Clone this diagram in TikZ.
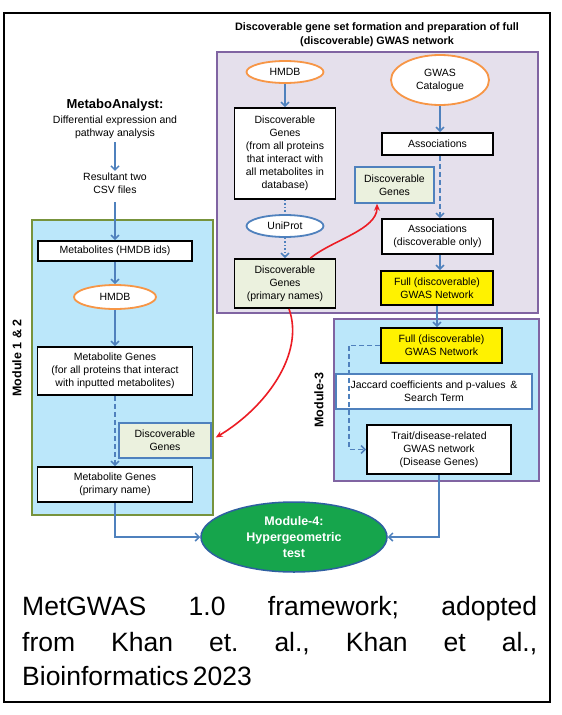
\documentclass[tikz,border=0pt]{standalone}
\usepackage{fontspec}
\setmainfont{Liberation Sans}
\usetikzlibrary{shapes.geometric,arrows.meta}
\definecolor{arrblue}{RGB}{79,129,189}
\definecolor{purpfill}{RGB}{229,224,236}
\definecolor{purpline}{RGB}{128,100,162}
\definecolor{cyanfill}{RGB}{187,231,250}
\definecolor{olivel}{RGB}{119,147,60}
\definecolor{orng}{RGB}{247,150,70}
\definecolor{lgreen}{RGB}{235,241,222}
\definecolor{mfgreen}{RGB}{22,165,76}
\definecolor{mline}{RGB}{46,95,160}
\definecolor{redc}{RGB}{236,28,36}
\newcommand\bxf{\fontsize{10.5}{13}\selectfont}
\newcommand\ttlf{\fontsize{10.8}{14}\selectfont\bfseries}
\newcommand\modf{\fontsize{12.5}{15}\selectfont\bfseries}
\newcommand\capf{\fontsize{26.5}{34}\selectfont\frenchspacing}
\begin{document}
\begin{tikzpicture}[x=1pt,y=-1pt,
  blk/.style={draw=black, line width=1.8pt, fill=white, inner sep=1pt, align=center, font=\bxf},
  gbx/.style={draw=arrblue, line width=1.5pt, fill=lgreen, inner sep=1pt, align=center, font=\bxf},
  ybx/.style={draw=black, line width=1.8pt, fill=yellow, inner sep=1pt, align=center, font=\bxf},
  oell/.style={ellipse, draw=orng, line width=1.8pt, fill=white, inner sep=0pt, align=center, font=\bxf},
  bell/.style={ellipse, draw=arrblue, line width=1.8pt, fill=white, inner sep=0pt, align=center, font=\bxf},
  panel/.style={line width=1.5pt, inner sep=0pt},
  plain/.style={align=center, font=\bxf},
  arr/.style={draw=arrblue, line width=1.5pt, -{Straight Barb[length=4pt,width=8pt]}},
  dsh/.style={dash pattern=on 5pt off 3pt},
  dtt/.style={dash pattern=on 1.5pt off 2pt},
  redarr/.style={draw=redc, line width=1.6pt, -{Stealth[length=7pt,width=6pt]}}
]
\useasboundingbox (0,0) rectangle (562,715);
\fill[white] (0,0) rectangle (562,715);
\node[draw=black, line width=2pt, minimum width=546pt, minimum height=689pt, inner sep=0pt] (frame) at (277,357.5) {};

% panels
\node[panel, draw=purpline, fill=purpfill, minimum width=321pt, minimum height=261pt] (pbox) at (377.5,182.5) {};
\node[panel, draw=olivel, fill=cyanfill, minimum width=181pt, minimum height=295pt] (m12) at (122.5,367.5) {};
\node[panel, draw=purpline, fill=cyanfill, minimum width=205pt, minimum height=162pt] (m3) at (436.5,400) {};

\node[font=\ttlf, align=center, inner sep=0pt] (title) at (377,34.5) {Discoverable gene set formation and preparation of full\\(discoverable) GWAS network};

% top panel nodes
\node[oell, minimum width=77pt, minimum height=22pt] (hmdbA) at (285,72) {HMDB};
\node[oell, minimum width=98pt, minimum height=50pt] (gwas) at (440,80) {GWAS\\Catalogue};
\node[blk, minimum width=101pt, minimum height=91pt] (dgA) at (285,153.5) {Discoverable\\Genes\\(from all proteins\\that interact with\\all metabolites in\\database)};
\node[blk, minimum width=111pt, minimum height=22pt] (assoc) at (437.5,144) {Associations};
\node[gbx, minimum width=79pt, minimum height=36pt] (dgB) at (394.5,185) {Discoverable\\Genes};
\node[bell, minimum width=77pt, minimum height=22pt] (uni) at (285,226) {UniProt};
\node[blk, minimum width=111pt, minimum height=35pt] (assocd) at (437.5,236.5) {Associations\\(discoverable only)};
\node[ybx, minimum width=112pt, minimum height=34pt] (fullA) at (437,288) {Full (discoverable)\\GWAS Network};
\node[blk, fill=lgreen, minimum width=101pt, minimum height=49pt] (dgp) at (285,283.5) {Discoverable\\Genes\\(primary names)};

% left column
\node[font=\fontsize{13}{15}\selectfont\bfseries, inner sep=0pt] (mtitle) at (115,105) {MetaboAnalyst:};
\node[plain, inner sep=0pt] (diff) at (115,127.5) {Differential expression and\\pathway analysis};
\node[plain, inner sep=0pt] (res) at (115,183.5) {Resultant two\\CSV files};
\node[blk, minimum width=154pt, minimum height=20pt] (metab) at (115,251) {Metabolites (HMDB ids)};
\node[oell, minimum width=82pt, minimum height=24pt] (hmdbB) at (115,297) {HMDB};
\node[blk, minimum width=155pt, minimum height=48pt] (mg) at (115,371) {Metabolite Genes\\(for all proteins that interact\\with inputted metabolites)};
\node[gbx, minimum width=92pt, minimum height=35pt] (dgC) at (165,440.5) {Discoverable\\Genes};
\node[blk, minimum width=155pt, minimum height=35pt] (mgp) at (115,484.5) {Metabolite Genes\\(primary name)};
\node[rotate=90, font=\modf] (lab12) at (17,358) {Module 1 \& 2};

% module 3
\node[ybx, minimum width=121pt, minimum height=35pt] (fullB) at (441.5,345.5) {Full (discoverable)\\GWAS Network};
\node[blk, draw=arrblue, line width=1.5pt, minimum width=196pt, minimum height=35pt] (jacc) at (434,391.5) {Jaccard coefficients and p-values \,\&\\Search Term};
\node[blk, minimum width=144pt, minimum height=49pt] (trait) at (439,449.5) {Trait/disease-related\\GWAS network\\(Disease Genes)};
\node[rotate=90, font=\modf] (lab3) at (319,400) {Module-3};

% module 4
\node[ellipse, draw=mline, line width=1.5pt, fill=mfgreen, minimum width=186pt, minimum height=70pt, inner sep=0pt, align=center, text=white, font=\fontsize{12.5}{16}\selectfont\bfseries] (m4) at (294,537) {Module-4:\\Hypergeometric\\test};

% caption
\node[anchor=base west, inner sep=0pt, font=\capf] (cap1) at (22,615) {\makebox[515pt][s]{MetGWAS 1.0 framework; adopted}};
\node[anchor=base west, inner sep=0pt, font=\capf] (cap2) at (22,651) {\makebox[515pt][s]{from Khan et. al., Khan et al.,}};
\node[anchor=base west, inner sep=0pt, font=\capf] (cap3) at (22,685) {Bioinformatics\,2023};

% connectors
\draw[arr] (hmdbA.south) -- (hmdbA.south |- dgA.north);
\draw[arr] (gwas.south) -- (gwas.south |- assoc.north);
\draw[arr, dsh] (gwas.south |- assoc.south) -- (gwas.south |- assocd.north);
\draw[draw=arrblue, line width=1.5pt, dtt] (dgA.south) -- (dgA.south |- uni.north);
\draw[arr, dtt] (uni.south) -- (uni.south |- dgp.north);
\draw[arr] (gwas.south |- assocd.south) -- (gwas.south |- fullA.north);
\draw[arr] (fullA.south) -- (fullA.south |- fullB.north);

\draw[arr, shorten <=3pt, shorten >=2pt] (diff.south) -- (res.north);
\draw[arr, shorten <=8pt] (res.south) -- (res.south |- metab.north);
\draw[arr] (metab.south) -- (metab.south |- hmdbB.north);
\draw[arr] (hmdbB.south) -- (hmdbB.south |- mg.north);
\draw[arr, dsh] (mg.south) -- (mg.south |- mgp.north);
\draw[arr] (mgp.south) |- (m4.west);
\draw[arr] (trait.south) |- (m4.east);

\coordinate (bend) at (349,345.5);
\draw[arr, dsh] (fullB.west) -- (bend) |- (trait.west);

\draw[redarr] ([xshift=-26pt]dgp.north east) .. controls +(22,-18) and +(0,26) .. ([xshift=-17.5pt]dgB.south);
\draw[redarr] ([xshift=4pt]dgp.south) .. controls +(16,45) and +(50,-30) .. ([xshift=4pt,yshift=3pt]dgC.east);
\end{tikzpicture}
\end{document}
